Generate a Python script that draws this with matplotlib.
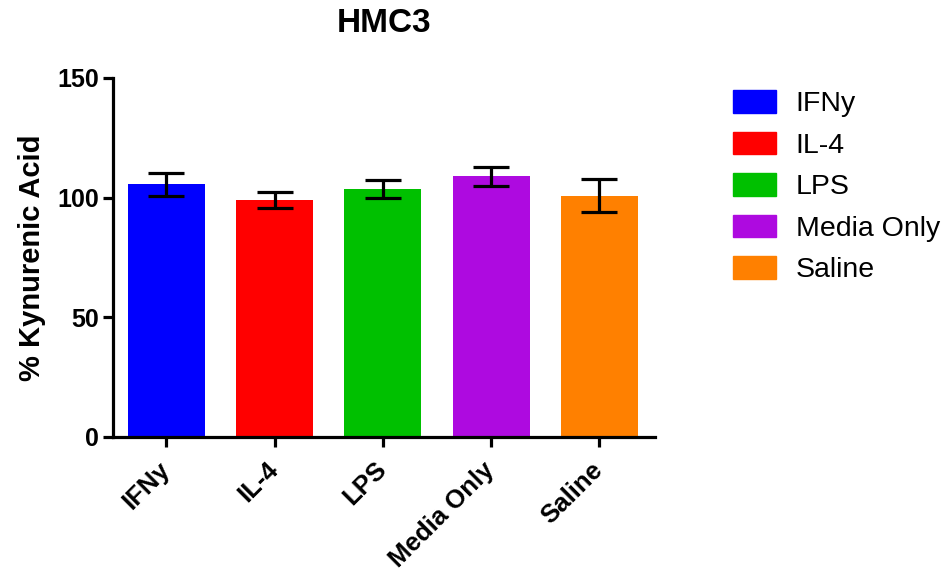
import matplotlib
matplotlib.use("Agg")
from matplotlib import pyplot as plt
from matplotlib.patches import Patch
from matplotlib.transforms import ScaledTranslation

plt.rcParams['font.family'] = ['Liberation Sans', 'DejaVu Sans']

groups = ['IFNy', 'IL-4', 'LPS', 'Media Only', 'Saline']
means = [105.6, 99.0, 103.4, 108.9, 100.8]
errors = [4.8, 3.4, 3.8, 4.0, 7.0]
colors = ['#0000FF', '#FF0000', '#00C000', '#AE0AE0', '#FF8000']

fig = plt.figure(figsize=(9.46, 5.77), dpi=100)
ax = fig.add_axes([0.119, 0.243, 0.573, 0.622])

x = list(range(len(groups)))
ax.bar(x, means, width=0.71, color=colors, zorder=2)
ax.errorbar(x, means, yerr=errors, fmt='none', ecolor='black',
            elinewidth=2.3, capsize=13, capthick=2.3, zorder=3)

ax.set_xlim(-0.496, 4.51)
ax.set_ylim(0, 150)
ax.set_yticks([0, 50, 100, 150])
ax.set_xticks(x)
ax.set_xticklabels(groups, rotation=45, ha='right', va='center',
                   rotation_mode='anchor', fontsize=18.5, fontweight='bold')
# nudge rotated labels a little to the right
shift = ScaledTranslation(4 / 72, 0, fig.dpi_scale_trans)
for lbl in ax.get_xticklabels():
    lbl.set_transform(lbl.get_transform() + shift)
for lbl in ax.get_yticklabels():
    lbl.set_fontsize(18)
    lbl.set_fontweight('bold')

ax.spines['top'].set_visible(False)
ax.spines['right'].set_visible(False)
ax.spines['left'].set_linewidth(2.3)
ax.spines['bottom'].set_linewidth(2.3)
ax.tick_params(axis='y', width=2.3, length=7, pad=3)
ax.tick_params(axis='x', width=2.3, length=7, pad=14)

ax.set_ylabel('% Kynurenic Acid', fontsize=21, fontweight='bold', labelpad=8)
ax.set_title('HMC3', fontsize=24, fontweight='bold', pad=33)

handles = [Patch(facecolor=c, edgecolor=c, label=g) for g, c in zip(groups, colors)]
fig.legend(handles=handles, loc='upper left', bbox_to_anchor=(0.748, 0.888),
           frameon=False, fontsize=20.5, handlelength=1.5, handleheight=0.85,
           labelspacing=0.5, handletextpad=0.7)

plt.savefig('out.png', dpi=100)
